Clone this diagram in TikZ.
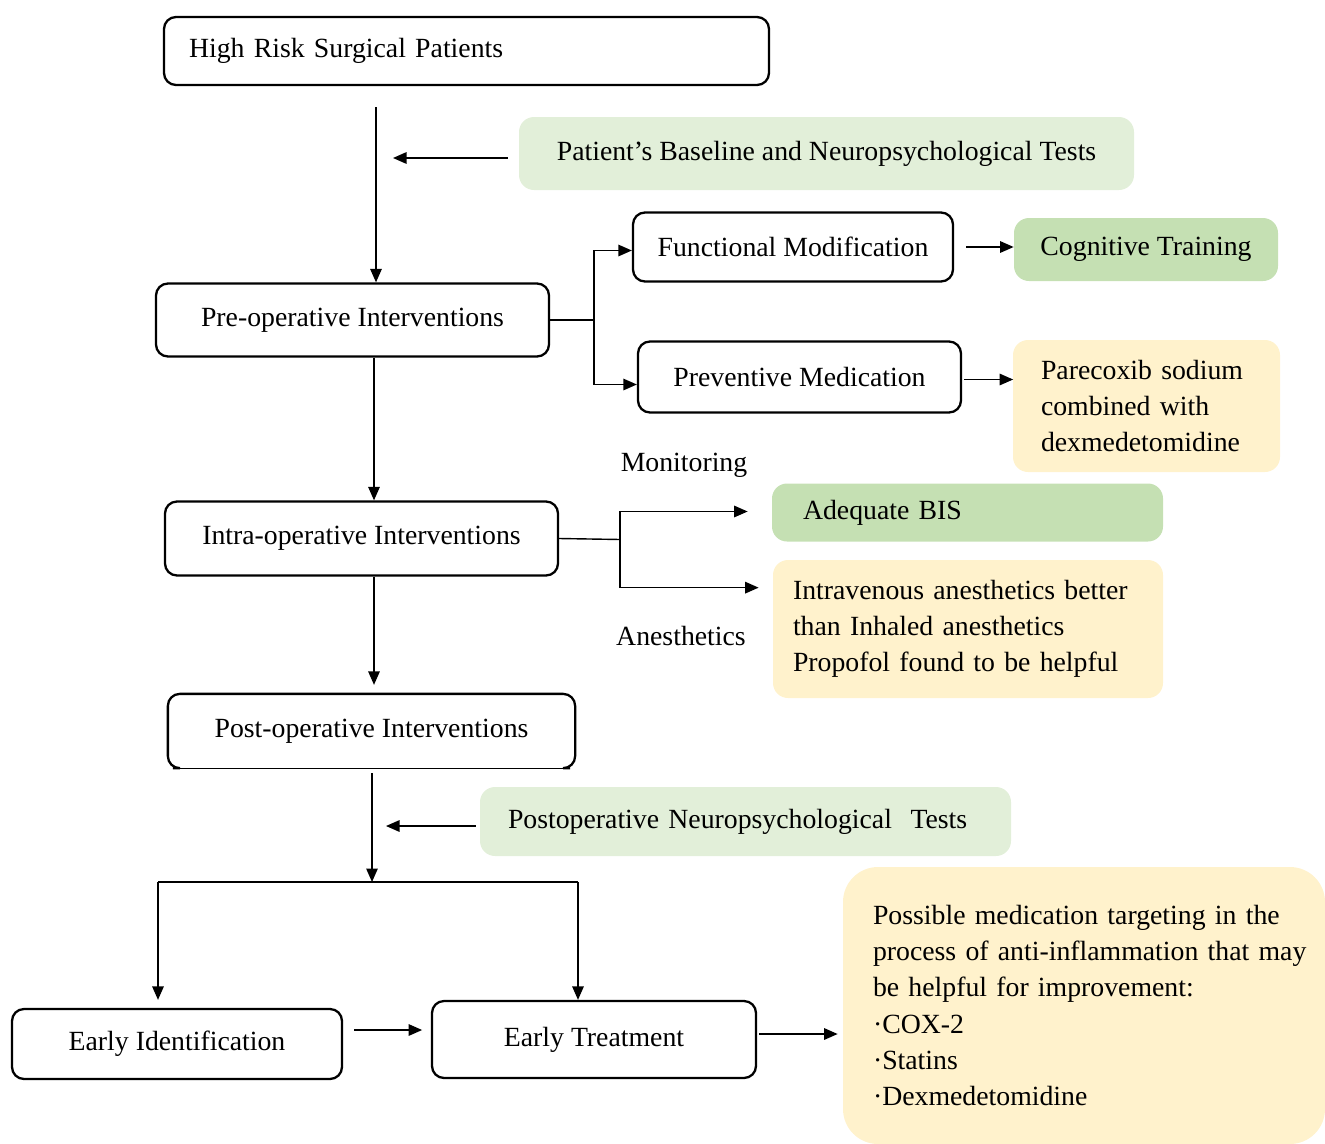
\documentclass[tikz,border=0pt]{standalone}
\usepackage{fontspec}
\setmainfont{Liberation Serif}
\usetikzlibrary{arrows.meta,calc}
\definecolor{lgreen}{HTML}{E2EFD9}
\definecolor{mgreen}{HTML}{C5E0B3}
\definecolor{lorange}{HTML}{FFF2CC}
\tikzset{
  every node/.style={font=\fontsize{15.8}{20.6}\selectfont},
  wbox/.style={draw, line width=1.3pt, rounded corners=0.24cm, fill=white, inner sep=0pt, align=center},
  cbox/.style={rounded corners=0.3cm, inner sep=0pt},
  conn/.style={line width=0.8pt},
  arr/.style={conn, -{Triangle[length=0.27cm,width=0.23cm]}},
  lbl/.style={inner sep=0pt}
}
\begin{document}
\begin{tikzpicture}
\useasboundingbox (0,0) rectangle (26.5,-22.86);
% white boxes
\node[wbox, minimum width=12.1cm, minimum height=1.36cm, text width=11.1cm, inner xsep=0.5cm, align=left] (b1) at (9.33,-1.02) {High Risk Surgical Patients};
\node[wbox, minimum width=7.86cm, minimum height=1.46cm] (b2) at (7.05,-6.4) {Pre-operative Interventions};
\node[wbox, minimum width=6.4cm, minimum height=1.38cm] (fm) at (15.86,-4.94) {Functional Modification};
\node[wbox, minimum width=6.46cm, minimum height=1.42cm] (pm) at (15.99,-7.54) {Preventive Medication};
\node[wbox, minimum width=7.86cm, minimum height=1.48cm] (b3) at (7.23,-10.77) {Intra-operative Interventions};
\node[wbox, draw=none, minimum width=8.1cm, minimum height=1.44cm] (b4) at (7.43,-14.62) {Post-operative Interventions};
\draw[line width=1.3pt, rounded corners=0.24cm] ($(b4.south west)+(0.1,0)$) -- (b4.south west) -- (b4.north west) -- (b4.north east) -- (b4.south east) -- ($(b4.south east)+(-0.1,0)$);
\draw[line width=0.5pt] ($(b4.south west)+(0.1,0)$) -- ($(b4.south east)+(-0.1,0)$);
\node[wbox, minimum width=6.6cm, minimum height=1.4cm] (ei) at (3.54,-20.88) {Early Identification};
\node[wbox, minimum width=6.48cm, minimum height=1.54cm] (et) at (11.88,-20.79) {\raisebox{0.11cm}{Early Treatment}};
% coloured boxes
\node[cbox, fill=lgreen, minimum width=12.3cm, minimum height=1.46cm] (base) at (16.53,-3.07) {Patient’s Baseline and Neuropsychological Tests};
\node[cbox, fill=mgreen, minimum width=5.28cm, minimum height=1.26cm] (cog) at (22.92,-4.99) {Cognitive Training};
\node[cbox, fill=lorange, minimum width=5.34cm, minimum height=2.64cm, text width=4.22cm, inner xsep=0.56cm, align=left] (par) at (22.93,-8.12) {Parecoxib sodium\\combined with\\dexmedetomidine};
\node[cbox, fill=mgreen, minimum width=7.82cm, minimum height=1.16cm, text width=6.58cm, inner xsep=0.62cm, align=left] (bis) at (19.35,-10.25) {Adequate BIS};
\node[cbox, fill=lorange, minimum width=7.8cm, minimum height=2.76cm, text width=7.0cm, inner xsep=0.4cm, align=left] (iv) at (19.36,-12.58) {\mbox{Intravenous anesthetics better}\\than Inhaled anesthetics\\Propofol found to be helpful};
\node[cbox, fill=lgreen, minimum width=10.62cm, minimum height=1.38cm, text width=9.5cm, inner xsep=0.56cm, align=left] (post) at (14.91,-16.43) {Postoperative Neuropsychological\ \ Tests};
\node[cbox, rounded corners=0.7cm, fill=lorange, minimum width=9.64cm, minimum height=5.54cm, text width=8.44cm, inner xsep=0.6cm, align=left] (big) at (21.68,-20.11) {\mbox{Possible medication targeting in the}\\\mbox{process of anti-inflammation that may}\\\mbox{be helpful for improvement:}\\·COX-2\\·Statins\\·Dexmedetomidine};
% labels
\node[lbl] (mon) at (13.68,-9.3) {Monitoring};
\node[lbl] (ane) at (13.62,-12.72) {Anesthetics};
% coordinates
\coordinate (m1) at (7.52,-2.14);
\coordinate (f1) at ($(b2.east)+(0.88,0)$);
\coordinate (f2) at ($(b3.east)+(1.22,-0.02)$);
\coordinate (m2) at (7.48,0);
\coordinate (m3) at (7.44,0);
\coordinate (s) at (7.44,-17.64);
\coordinate (hl) at (3.16,-17.64);
\coordinate (hr) at (11.56,-17.64);
% connectors
\draw[arr] (m1) -- (m1 |- b2.north);
\draw[arr] ($(base.west)+(-0.22,-0.09)$) -- ($(m1 |- base.west)+(0.34,-0.09)$);
\draw[conn, line width=1.2pt] (b2.east) -- (f1);
\draw[arr] (f1) |- ($(fm.west)+(0,-0.07)$);
\draw[arr] (f1) |- ($(pm.west)+(0,-0.15)$);
\draw[arr] ($(fm.east)+(0.24,0)$) -- (cog.west |- fm.east);
\draw[arr] ($(pm.east)+(0.04,-0.05)$) -- ++(0.98,0);
\draw[conn] (b3.east) -- (f2);
\draw[arr] (f2) |- ($(bis.west)+(-0.48,0.02)$);
\draw[arr] (f2) |- ($(iv.north west)+(-0.28,-0.56)$);
\draw[arr] (m2 |- b2.south) -- (m2 |- b3.north);
\draw[arr] (m2 |- b3.south) -- ($(m2 |- b4.north)+(0,0.18)$);
\draw[arr] ($(m3 |- b4.south)+(0,-0.1)$) -- (s);
\draw[arr] ($(post.west)+(-0.08,-0.09)$) -- ($(m3 |- post.west)+(0.28,-0.09)$);
\draw[conn] (hl) -- (hr);
\draw[arr] (hl) -- ($(hl |- ei.north)+(0,0.16)$);
\draw[arr] (hr) -- (hr |- et.north);
\draw[arr] ($(ei.east)+(0.22,0.28)$) -- ++(1.36,0);
\draw[arr] ($(et.east)+(0.04,0.11)$) -- ($(big.west |- et.east)+(-0.1,0.11)$);
\end{tikzpicture}
\end{document}
